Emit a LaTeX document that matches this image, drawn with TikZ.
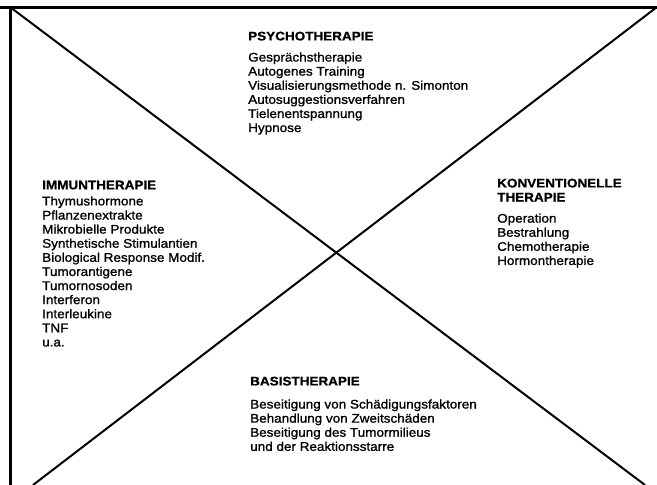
\documentclass[tikz,border=0pt]{standalone}
\usepackage{fontspec}
\setmainfont{Liberation Sans}[FakeStretch=1.08, UprightFeatures={FakeBold=1.2}, BoldFeatures={FakeBold=0.8}]
\begin{document}
\begin{tikzpicture}[x=1pt,y=-1pt,
  frame/.style={line width=2.2pt},
  diag/.style={line width=2pt},
  blk/.style={anchor=north west, inner sep=0pt, align=left, font=\fontsize{12.5}{14.1}\selectfont}]
\useasboundingbox (0,0) rectangle (657,485);
\fill[white] (0,0) rectangle (657,485);
% frame
\coordinate (fl) at (0,7.5);
\coordinate (fr) at (657,7.5);
\coordinate (ft) at (10.5,7.5);
\coordinate (fb) at (10.5,485);
\draw[frame] (fl) -- (fr);
\draw[frame] (ft) -- (fb);
% diagonals
\coordinate (tl) at (12,8.5);
\coordinate (br) at (645,485);
\coordinate (tr) at (655,8.5);
\coordinate (bl) at (33,485);
\draw[diag] (tl) -- (br);
\draw[diag] (tr) -- (bl);
% text blocks
\node[blk] (psy) at (248,31.5) {\textbf{PSYCHOTHERAPIE}\\[7pt]
Gesprächstherapie\\
Autogenes Training\\
Visualisierungsmethode n. Simonton\\
Autosuggestionsverfahren\\
Tielenentspannung\\
Hypnose};
\node[blk] (imm) at (42,180.5) {\textbf{IMMUNTHERAPIE}\\[2pt]
Thymushormone\\
Pflanzenextrakte\\
Mikrobielle Produkte\\
Synthetische Stimulantien\\
Biological Response Modif.\\
Tumorantigene\\
Tumornosoden\\
Interferon\\
Interleukine\\
TNF\\
u.a.};
\node[blk] (konv) at (497,178.5) {\textbf{KONVENTIONELLE}\\
\textbf{THERAPIE}\\[7pt]
Operation\\
Bestrahlung\\
Chemotherapie\\
Hormontherapie};
\node[blk] (basis) at (250,376.5) {\textbf{BASISTHERAPIE}\\[9pt]
Beseitigung von Schädigungsfaktoren\\
Behandlung von Zweitschäden\\
Beseitigung des Tumormilieus\\
und der Reaktionsstarre};
\end{tikzpicture}
\end{document}
